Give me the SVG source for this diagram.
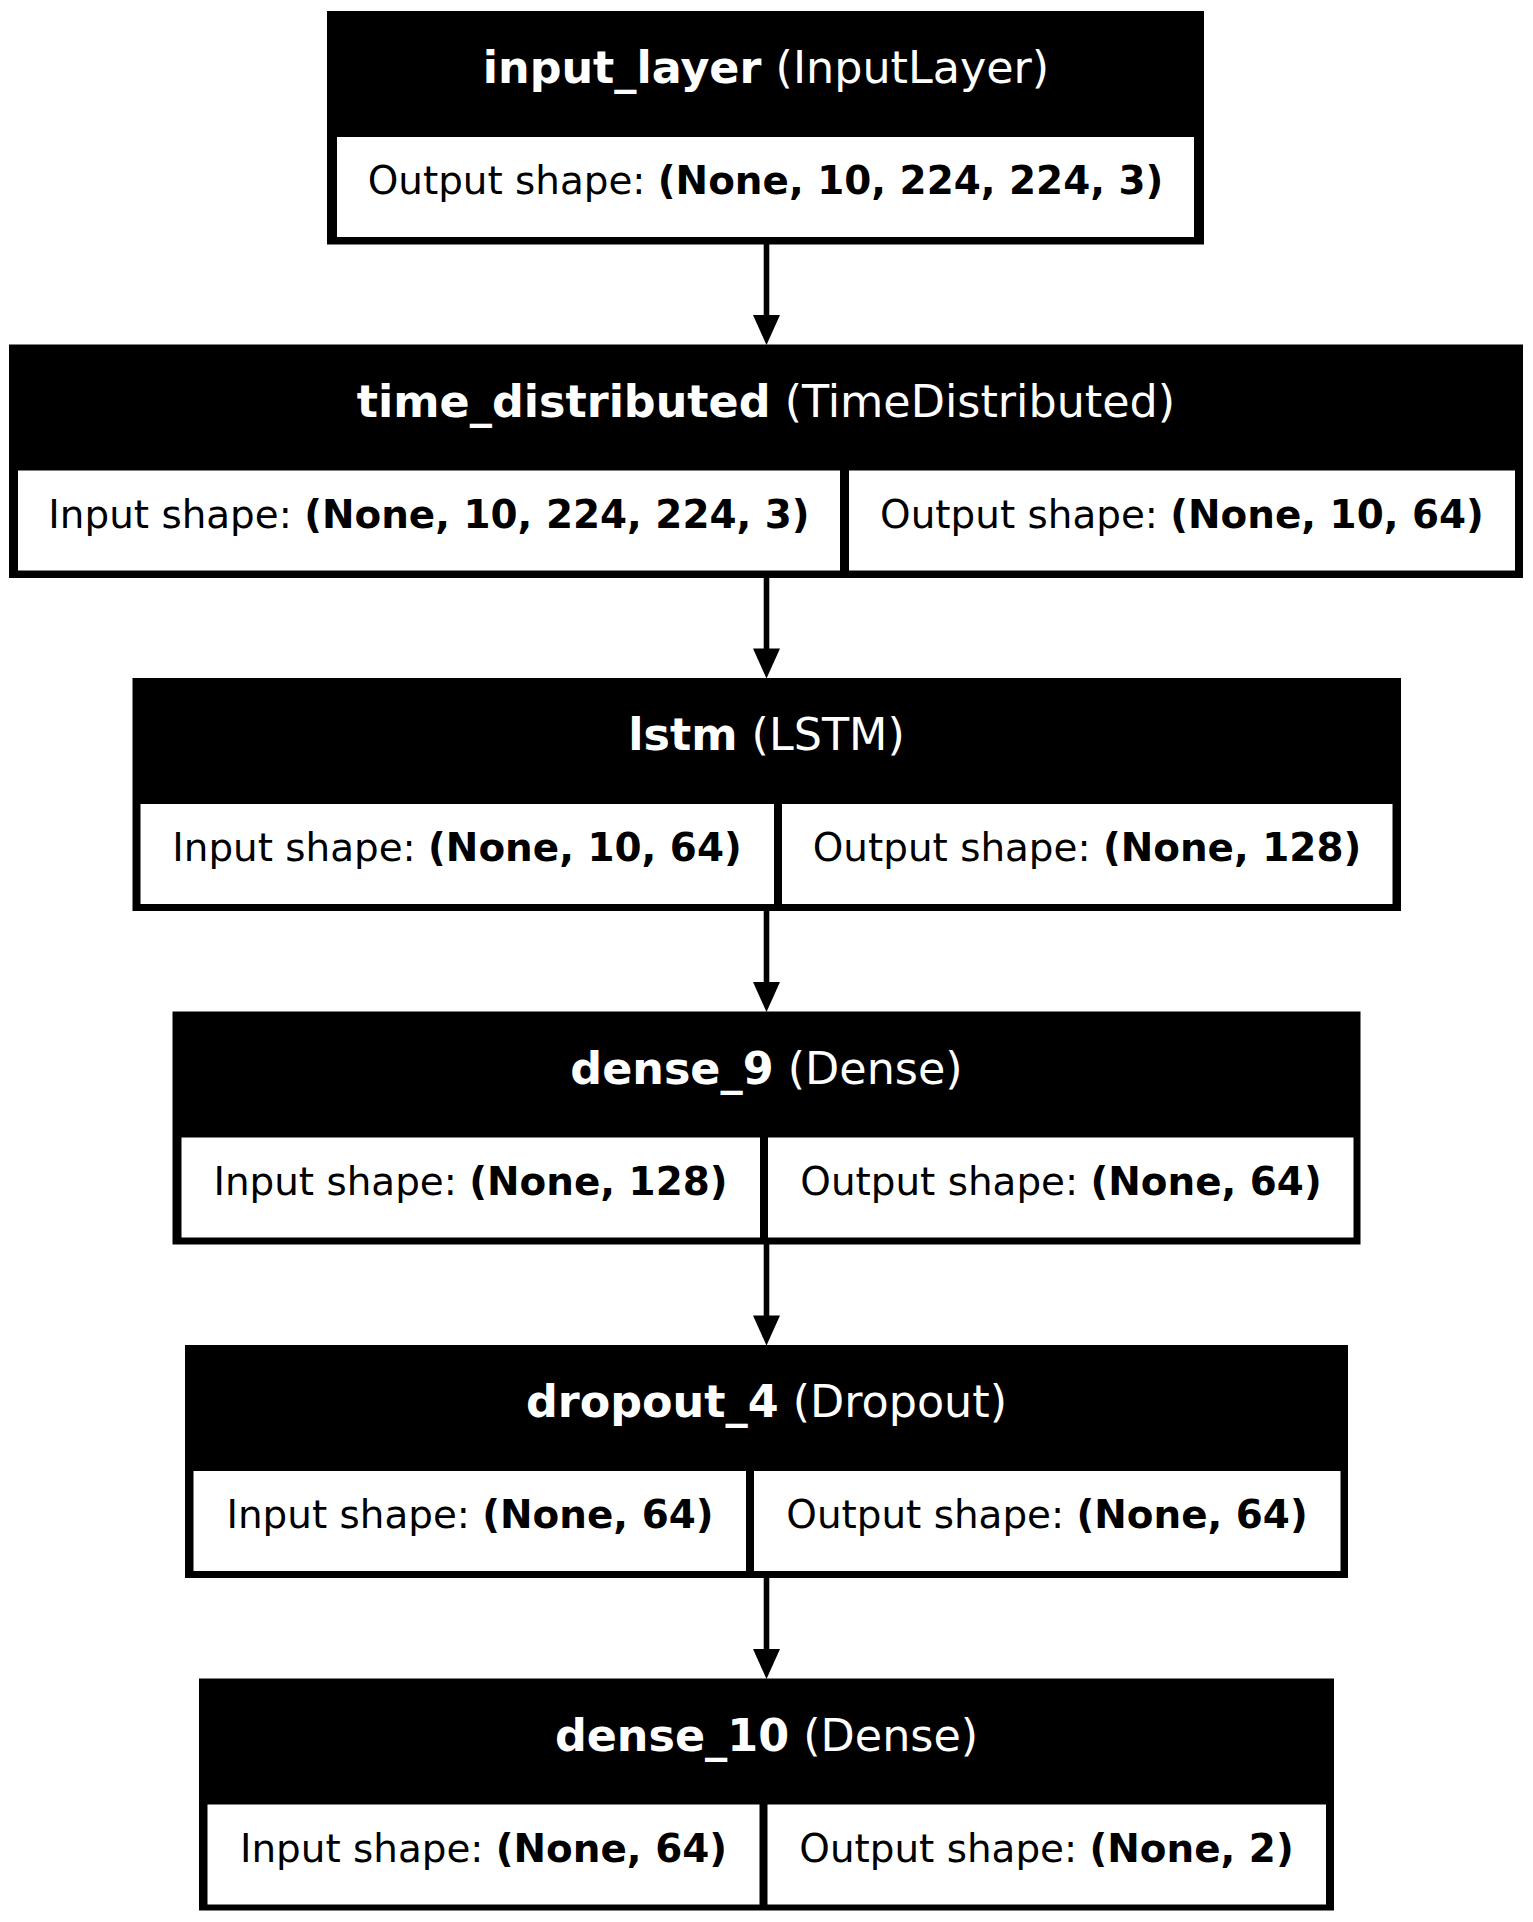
<svg xmlns="http://www.w3.org/2000/svg" width="1533" height="1922" viewBox="0 0 1533 1922">
<style>
.box{fill:#000}
.cell{fill:#fff}
.title{font-family:"DejaVu Sans",sans-serif;font-size:44.44px;fill:#fff;text-anchor:middle}
.body{font-family:"DejaVu Sans",sans-serif;font-size:38.89px;fill:#000;text-anchor:middle}
.b{font-weight:bold}
.edge{stroke:#000;stroke-width:5.6;fill:none}
.head{fill:#000}
</style>
<rect width="1533" height="1922" fill="#fff"/>
<g id="connectors">
<line class="edge" x1="766.5" y1="244" x2="766.5" y2="318"/>
<polygon class="head" points="766.5,345 753,315 780,315"/>
<line class="edge" x1="766.5" y1="577" x2="766.5" y2="651"/>
<polygon class="head" points="766.5,678.5 753,648.5 780,648.5"/>
<line class="edge" x1="766.5" y1="910" x2="766.5" y2="984"/>
<polygon class="head" points="766.5,1012 753,982 780,982"/>
<line class="edge" x1="766.5" y1="1244" x2="766.5" y2="1318"/>
<polygon class="head" points="766.5,1345.5 753,1315.5 780,1315.5"/>
<line class="edge" x1="766.5" y1="1577" x2="766.5" y2="1651"/>
<polygon class="head" points="766.5,1679 753,1649 780,1649"/>
</g>
<g id="input_layer">
<rect class="box" x="327" y="11" width="877" height="233.5"/>
<rect class="cell" x="337" y="137" width="857" height="100"/>
<text class="title" x="766" y="83"><tspan class="b">input_layer</tspan> (InputLayer)</text>
<text class="body" x="765.5" y="194">Output shape: <tspan class="b">(None, 10, 224, 224, 3)</tspan></text>
</g>
<g id="time_distributed">
<rect class="box" x="9" y="344.5" width="1514" height="233.5"/>
<rect class="cell" x="18" y="470.5" width="822" height="100"/>
<rect class="cell" x="849" y="470.5" width="666" height="100"/>
<text class="title" x="766" y="416.5"><tspan class="b">time_distributed</tspan> (TimeDistributed)</text>
<text class="body" x="429" y="527.5">Input shape: <tspan class="b">(None, 10, 224, 224, 3)</tspan></text>
<text class="body" x="1182" y="527.5">Output shape: <tspan class="b">(None, 10, 64)</tspan></text>
</g>
<g id="lstm">
<rect class="box" x="132.5" y="678" width="1268.5" height="233"/>
<rect class="cell" x="140.5" y="804" width="633.5" height="100"/>
<rect class="cell" x="782" y="804" width="610.5" height="100"/>
<text class="title" x="766.5" y="750"><tspan class="b">lstm</tspan> (LSTM)</text>
<text class="body" x="457" y="861">Input shape: <tspan class="b">(None, 10, 64)</tspan></text>
<text class="body" x="1087" y="861">Output shape: <tspan class="b">(None, 128)</tspan></text>
</g>
<g id="dense_9">
<rect class="box" x="172.5" y="1011.5" width="1188" height="233"/>
<rect class="cell" x="181.5" y="1137.5" width="578.5" height="100"/>
<rect class="cell" x="768" y="1137.5" width="585.5" height="100"/>
<text class="title" x="766.5" y="1083.5"><tspan class="b">dense_9</tspan> (Dense)</text>
<text class="body" x="470.5" y="1194.5">Input shape: <tspan class="b">(None, 128)</tspan></text>
<text class="body" x="1061" y="1194.5">Output shape: <tspan class="b">(None, 64)</tspan></text>
</g>
<g id="dropout_4">
<rect class="box" x="185" y="1345" width="1163" height="233"/>
<rect class="cell" x="193.5" y="1471" width="552.5" height="100"/>
<rect class="cell" x="754" y="1471" width="586.5" height="100"/>
<text class="title" x="766.5" y="1417"><tspan class="b">dropout_4</tspan> (Dropout)</text>
<text class="body" x="470" y="1528">Input shape: <tspan class="b">(None, 64)</tspan></text>
<text class="body" x="1047" y="1528">Output shape: <tspan class="b">(None, 64)</tspan></text>
</g>
<g id="dense_10">
<rect class="box" x="199" y="1678.5" width="1135" height="232"/>
<rect class="cell" x="207.5" y="1804.5" width="552" height="100"/>
<rect class="cell" x="767.5" y="1804.5" width="558.5" height="100"/>
<text class="title" x="766.5" y="1750.5"><tspan class="b">dense_10</tspan> (Dense)</text>
<text class="body" x="483.5" y="1861.5">Input shape: <tspan class="b">(None, 64)</tspan></text>
<text class="body" x="1046.5" y="1861.5">Output shape: <tspan class="b">(None, 2)</tspan></text>
</g>
</svg>
